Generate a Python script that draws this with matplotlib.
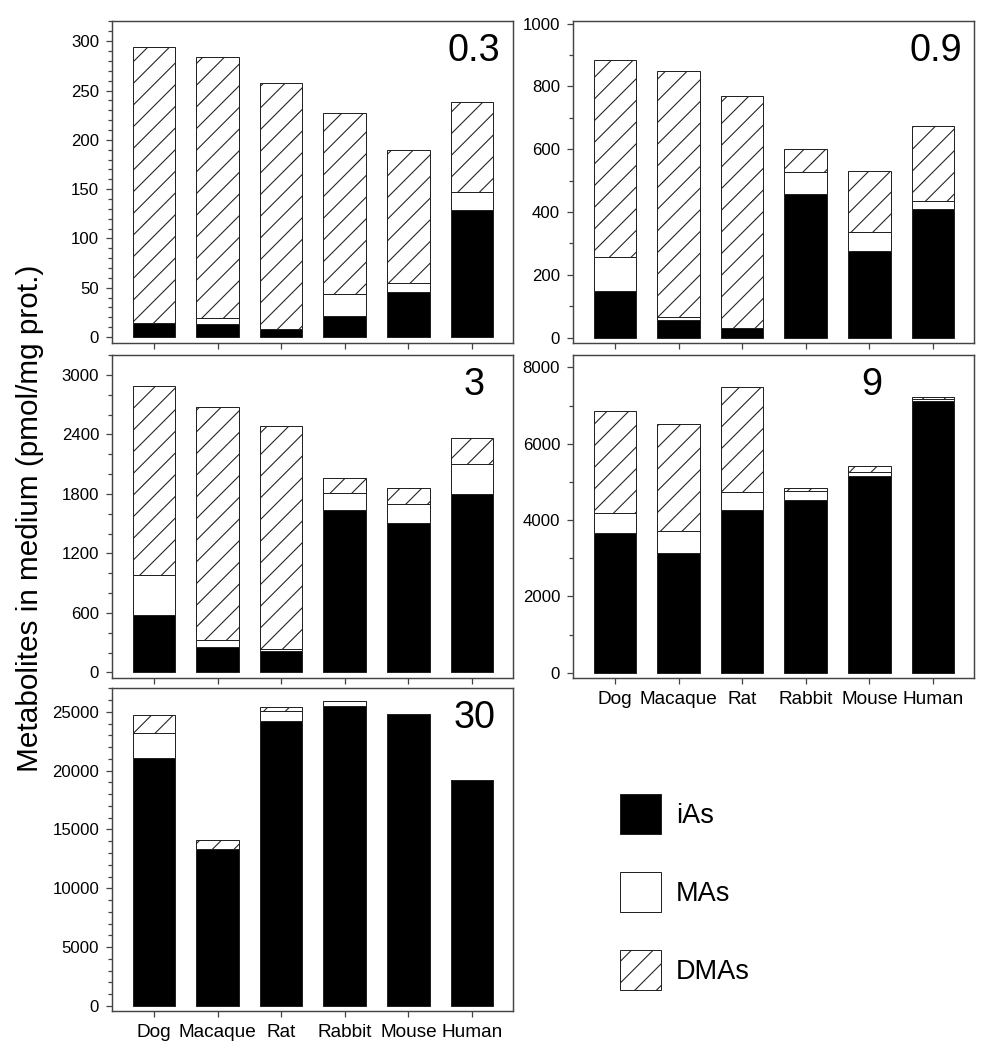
import matplotlib
matplotlib.use('Agg')
import matplotlib.pyplot as plt
from matplotlib.patches import Patch
from matplotlib.ticker import MultipleLocator

plt.rcParams['font.family'] = ['Liberation Sans', 'DejaVu Sans']
plt.rcParams['hatch.linewidth'] = 0.6

species = ['Dog', 'Macaque', 'Rat', 'Rabbit', 'Mouse', 'Human']
doses = ['0.3', '0.9', '3', '9', '30']

# metabolites (pmol/mg prot.) per dose, in species order
ias_03 = [14, 13, 8, 21, 46, 129]
mas_03 = [0, 6, 0.5, 23, 9, 18]
dmas_03 = [280, 265, 249, 183, 135, 91]

ias_09 = [148, 56, 32, 457, 275, 409]
mas_09 = [108, 11, 0, 69, 60, 26]
dmas_09 = [629, 781, 737, 75, 196, 239]

ias_3 = [578, 252, 219, 1635, 1510, 1796]
mas_3 = [407, 78, 13, 175, 185, 306]
dmas_3 = [1904, 2351, 2254, 151, 162, 259]

ias_9 = [3668, 3144, 4262, 4524, 5153, 7127]
mas_9 = [524, 568, 480, 227, 96, 52]
dmas_9 = [2664, 2803, 2743, 87, 157, 35]

ias_30 = [21093, 13363, 24236, 25481, 24773, 19196]
mas_30 = [2067, 0, 821, 425, 0, 0]
dmas_30 = [1557, 708, 368, 0, 0, 0]

W, H = 986, 1050
DPI = 130


def box(x0, y0, x1, y1):
    return [x0 / W, 1 - y1 / H, (x1 - x0) / W, (y1 - y0) / H]


panels = [
    # data, axes box (px), ylim, major, minor, label x, label ha, show xlabels
    ((ias_03, mas_03, dmas_03), box(112, 21, 513, 343), (-6, 320.5), 50, 10, 0.968, 'right', False),
    ((ias_09, mas_09, dmas_09), box(573, 21, 974, 343), (-17, 1008), 200, 100, 0.970, 'right', False),
    ((ias_3, mas_3, dmas_3), box(112, 355, 513, 677.7), (-54, 3202), 600, 200, 0.904, 'center', False),
    ((ias_9, mas_9, dmas_9), box(573, 355, 974, 677.7), (-131, 8323), 2000, 1000, 0.745, 'center', True),
    ((ias_30, mas_30, dmas_30), box(112, 688, 513, 1011), (-425, 27018), 5000, 1000, 0.903, 'center', True),
]

edge = '#222222'
spine_col = '#444444'

fig = plt.figure(figsize=(W / DPI, H / DPI), dpi=DPI)

x = list(range(len(species)))
for (vals, rect, ylim, major, minor, lx, lha, showx), dose in zip(panels, doses):
    ias, mas, dmas = vals
    ax = fig.add_axes(rect)
    b2 = [a + m for a, m in zip(ias, mas)]
    ax.bar(x, ias, width=0.67, color='black', edgecolor=edge, linewidth=0.55)
    ax.bar(x, mas, width=0.67, bottom=ias, color='white', edgecolor=edge, linewidth=0.55)
    ax.bar(x, dmas, width=0.67, bottom=b2, color='white', edgecolor=edge,
           linewidth=0.55, hatch='//')
    ax.set_xlim(-0.66, 5.645)
    ax.set_ylim(*ylim)
    ax.yaxis.set_major_locator(MultipleLocator(major))
    ax.yaxis.set_minor_locator(MultipleLocator(minor))
    ax.set_xticks(x)
    if showx:
        ax.set_xticklabels(species, fontsize=10.5)
    else:
        ax.set_xticklabels([])
    ax.tick_params(axis='y', which='major', direction='out', length=3.1, width=0.7,
                   color=spine_col, labelsize=9.3, pad=4)
    ax.tick_params(axis='y', which='minor', direction='out', length=2.2, width=0.7,
                   color=spine_col)
    ax.tick_params(axis='x', which='major', direction='out', length=3.3, width=0.7,
                   color=spine_col, pad=4)
    for s in ax.spines.values():
        s.set_color(spine_col)
        s.set_linewidth(0.8)
    ax.text(lx, 0.876, dose, transform=ax.transAxes, ha=lha, va='baseline',
            fontsize=20.9)

fig.text(30 / W, 1 - 518 / H, 'Metabolites in medium (pmol/mg prot.)',
         rotation=90, ha='center', va='center', fontsize=16.5)

handles = [
    Patch(facecolor='black', edgecolor=edge, linewidth=0.55, label='iAs'),
    Patch(facecolor='white', edgecolor=edge, linewidth=0.55, label='MAs'),
    Patch(facecolor='white', edgecolor=edge, linewidth=0.55, hatch='//', label='DMAs'),
]
fig.legend(handles=handles, loc='upper left', bbox_to_anchor=(620 / W, 1 - 794 / H),
           frameon=False, fontsize=15, handlelength=1.52, handleheight=1.9,
           labelspacing=1.4, handletextpad=0.55, borderpad=0, borderaxespad=0)

fig.savefig('out.png', dpi=DPI)
